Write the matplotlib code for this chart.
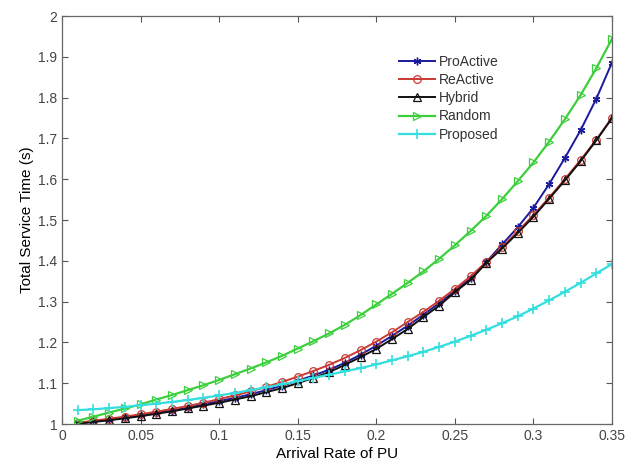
import numpy as np
import matplotlib
matplotlib.use("Agg")
import matplotlib.pyplot as plt

plt.rcParams['font.family'] = ['Liberation Sans', 'DejaVu Sans']

arrival_rate = [0.01, 0.02, 0.03, 0.04, 0.05, 0.06, 0.07, 0.08, 0.09, 0.10,
                0.11, 0.12, 0.13, 0.14, 0.15, 0.16, 0.17, 0.18, 0.19, 0.20,
                0.21, 0.22, 0.23, 0.24, 0.25, 0.26, 0.27, 0.28, 0.29, 0.30,
                0.31, 0.32, 0.33, 0.34, 0.35]

proactive = [1.002, 1.007, 1.011, 1.016, 1.021, 1.027, 1.033, 1.040, 1.048, 1.056,
             1.064, 1.073, 1.083, 1.094, 1.106, 1.119, 1.133, 1.150, 1.170, 1.192,
             1.216, 1.241, 1.268, 1.296, 1.326, 1.358, 1.397, 1.440, 1.482, 1.530,
             1.588, 1.652, 1.720, 1.797, 1.886]

reactive = [1.003, 1.008, 1.013, 1.018, 1.024, 1.030, 1.037, 1.044, 1.052, 1.061,
            1.070, 1.080, 1.091, 1.103, 1.116, 1.130, 1.145, 1.162, 1.181, 1.202,
            1.225, 1.250, 1.275, 1.302, 1.331, 1.362, 1.397, 1.433, 1.472, 1.512,
            1.555, 1.600, 1.647, 1.697, 1.750]

hybrid = [1.000, 1.005, 1.009, 1.014, 1.019, 1.025, 1.031, 1.038, 1.045, 1.052,
          1.060, 1.068, 1.078, 1.088, 1.100, 1.113, 1.127, 1.145, 1.164, 1.184,
          1.208, 1.233, 1.262, 1.290, 1.323, 1.353, 1.395, 1.430, 1.468, 1.508,
          1.552, 1.597, 1.644, 1.695, 1.750]

random_ = [1.008, 1.018, 1.028, 1.038, 1.048, 1.060, 1.071, 1.083, 1.095, 1.108,
           1.122, 1.136, 1.151, 1.167, 1.185, 1.203, 1.222, 1.243, 1.267, 1.293,
           1.319, 1.346, 1.374, 1.405, 1.438, 1.473, 1.510, 1.551, 1.595, 1.641,
           1.692, 1.747, 1.806, 1.872, 1.944]

proposed = [1.034, 1.036, 1.039, 1.042, 1.046, 1.050, 1.054, 1.059, 1.064, 1.070,
            1.076, 1.083, 1.090, 1.097, 1.105, 1.113, 1.121, 1.129, 1.137, 1.146,
            1.156, 1.166, 1.177, 1.189, 1.202, 1.216, 1.231, 1.247, 1.264, 1.283,
            1.303, 1.324, 1.346, 1.369, 1.392]

series_names = ["ProActive", "ReActive", "Hybrid", "Random", "Proposed"]

fig = plt.figure(figsize=(6.39, 4.65), dpi=100)
ax = fig.add_axes([62/639, 1 - 424/465, (612-62)/639, (424-16)/465])

ms = 5.5
ax.plot(arrival_rate, proactive, color='#1a1a9c', lw=1.4, marker=(6, 2, 0), ms=ms,
        mew=1.0, label=series_names[0])
ax.plot(arrival_rate, reactive, color='#c83a32', lw=1.4, marker='o', ms=ms,
        mfc='none', mew=0.9, label=series_names[1])
ax.plot(arrival_rate, hybrid, color='#111111', lw=1.4, marker='^', ms=ms,
        mfc='none', mew=0.9, label=series_names[2])
ax.plot(arrival_rate, random_, color='#3ccf3c', lw=1.6, marker='>', ms=ms,
        mfc='none', mew=0.9, label=series_names[3])
ax.plot(arrival_rate, proposed, color='#35dede', lw=1.6, marker='+', ms=ms+1,
        mew=1.2, label=series_names[4])

ax.set_xlim(0, 0.35)
ax.set_ylim(1, 2)
ax.set_xticks([0, 0.05, 0.1, 0.15, 0.2, 0.25, 0.3, 0.35])
ax.set_xticklabels(["0", "0.05", "0.1", "0.15", "0.2", "0.25", "0.3", "0.35"])
ax.set_yticks([1, 1.1, 1.2, 1.3, 1.4, 1.5, 1.6, 1.7, 1.8, 1.9, 2])
ax.set_yticklabels(["1", "1.1", "1.2", "1.3", "1.4", "1.5", "1.6", "1.7", "1.8", "1.9", "2"])

ax.tick_params(direction='in', length=4, width=0.8, colors='#555555',
               labelsize=10, labelcolor='#444444', top=True, right=True)
for s in ax.spines.values():
    s.set_color('#666666')
    s.set_linewidth(0.9)

ax.set_xlabel("Arrival Rate of PU", fontsize=11, labelpad=3)
ax.set_ylabel("Total Service Time (s)", fontsize=11, labelpad=3)

leg = fig.legend(*ax.get_legend_handles_labels(), loc='upper left',
                 bbox_to_anchor=(399/639, 1 - 55/465), frameon=False,
                 fontsize=10, handlelength=2.6, labelspacing=0.3,
                 handletextpad=0.25, borderpad=0, borderaxespad=0)
for t in leg.get_texts():
    t.set_color('#333333')

fig.savefig("out.png", dpi=100)
